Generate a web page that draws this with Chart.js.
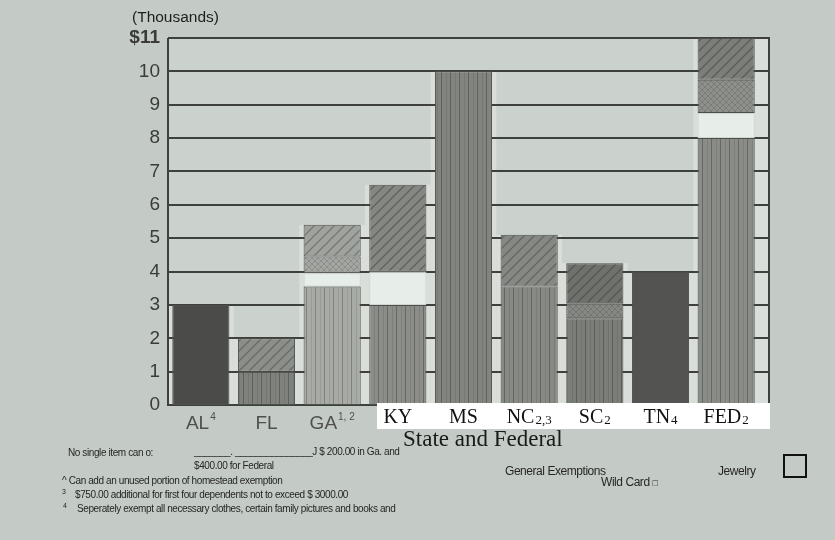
<!DOCTYPE html>
<html>
<head>
<meta charset="utf-8">
<script src="https://cdn.jsdelivr.net/npm/chart.js@4/dist/chart.umd.min.js"></script>
<style>
  html, body { margin: 0; padding: 0; background: #c4cbc6; }
  #wrap { position: relative; width: 835px; height: 540px; overflow: hidden;
          font-family: "Liberation Sans", Arial, sans-serif; }
  #wrap canvas { position: absolute; left: 0; top: 0; }
  .t { position: absolute; white-space: nowrap; color: #222; line-height: 1; }
  .note { font-size: 10px; letter-spacing: -0.4px; color: #262626; }
  .key { font-size: 12px; letter-spacing: -0.45px; color: #262626; }
  .box { position: absolute; left: 783px; top: 454px; width: 20px; height: 20px; border: 2px solid #111; }
</style>
</head>
<body>
<div id="wrap">
  <canvas id="chart" width="835" height="540"></canvas>
  <div class="t" style="left:132px; top:9px; font-size:15.5px; color:#1e1e1e;">(Thousands)</div>
  <div class="t" style="left:403px; top:427px; font-family:'Liberation Serif',serif; font-size:23px; color:#1a1a1a;">State and Federal</div>

  <div class="t note" style="left:68px; top:448px;">No single item can o:</div>
  <div class="t note" style="left:194px; top:447px;">_______.&nbsp;_______________J $ 200.00 in Ga. and</div>
  <div class="t note" style="left:194px; top:461px;">$400.00 for Federal</div>
  <div class="t note" style="left:62px; top:476px;">^ Can add an unused portion of homestead exemption</div>
  <div class="t note" style="left:62px; top:488px; font-size:7px;">3</div>
  <div class="t note" style="left:75px; top:490px;">$750.00 additional for first four dependents not to exceed $ 3000.00</div>
  <div class="t note" style="left:63px; top:502px; font-size:7px;">4</div>
  <div class="t note" style="left:77px; top:504px;">Seperately exempt all necessary clothes, certain family pictures and books and</div>

  <div class="t key" style="left:505px; top:465px;">General Exemptions</div>
  <div class="t key" style="left:601px; top:476px;">Wild Card <span style="font-size:9px;">&#9633;</span></div>
  <div class="t key" style="left:718px; top:465px;">Jewelry</div>
  <div class="box"></div>
</div>

<script>
// Exemption amounts in thousands of dollars, stacked per state.
const categories = ['AL', 'FL', 'GA', 'KY', 'MS', 'NC', 'SC', 'TN', 'FED'];
const categoryNotes = ['4', '', '1, 2', '', '', '2,3', '2', '4', '2'];
const yTickValues = [0, 1, 2, 3, 4, 5, 6, 7, 8, 9, 10, 11];

const solidExemption    = [3, null, null, null, null, null, null, 4, null];
const homestead         = [null, 1, 3.55, 3, 10, 3.55, 2.6, null, 8];
const wildCard          = [null, null, 0.4, 1, null, null, null, null, 0.75];
const jewelry           = [null, null, 0.5, null, null, null, 0.45, null, 1];
const generalExemptions = [null, 1, 0.95, 2.6, null, 1.55, 1.2, null, 1.25];

// ---- fill textures ----
function tile(w, h, draw) {
  const c = document.createElement('canvas');
  c.width = w; c.height = h;
  const g = c.getContext('2d');
  draw(g, w, h);
  return g.createPattern(c, 'repeat');
}
function vStripes(base, line) {
  return tile(9, 4, (g, w, h) => {
    g.fillStyle = base; g.fillRect(0, 0, w, h);
    g.fillStyle = line; g.fillRect(0, 0, 1, h);
    g.globalAlpha = 0.35; g.fillRect(5, 0, 1, h);
  });
}
function diagHatch(base, line) {
  return tile(10, 10, (g, w, h) => {
    g.fillStyle = base; g.fillRect(0, 0, w, h);
    g.strokeStyle = line; g.lineWidth = 1.3;
    g.beginPath();
    g.moveTo(-1, h + 1); g.lineTo(w + 1, -1);
    g.moveTo(-1, 1); g.lineTo(1, -1);
    g.moveTo(w - 1, h + 1); g.lineTo(w + 1, h - 1);
    g.stroke();
  });
}
function crossHatch(base, line) {
  return tile(6, 6, (g, w, h) => {
    g.fillStyle = base; g.fillRect(0, 0, w, h);
    g.strokeStyle = line; g.lineWidth = 0.8; g.globalAlpha = 0.7;
    g.beginPath();
    g.moveTo(0, h); g.lineTo(w, 0);
    g.moveTo(0, 0); g.lineTo(w, h);
    g.stroke();
  });
}

const solidFill = ['#4b4c4a', null, null, null, null, null, null, '#535452', null];
const stripeFill = [
  null, vStripes('#7f817d', '#5f615d'), vStripes('#a8aaa5', '#80827e'),
  vStripes('#8b8d89', '#666864'), vStripes('#828480', '#60625e'),
  vStripes('#878985', '#636561'), vStripes('#7b7d79', '#5c5e5a'),
  null, vStripes('#8a8c88', '#666864')
];
const hatchFill = [
  null, diagHatch('#8c8e8a', '#686a66'), diagHatch('#a0a29e', '#767874'),
  diagHatch('#858783', '#5f615d'), null, diagHatch('#868884', '#636561'),
  diagHatch('#6f716d', '#555753'), null, diagHatch('#7c7e7a', '#5b5d59')
];
const crossFill = [
  null, null, crossHatch('#a4a6a2', '#7a7c78'), null, null, null,
  crossHatch('#868884', '#656763'), null, crossHatch('#8e908c', '#6a6c68')
];
const wildFill = '#e7ede9';

const EDGE_RIGHT = 770;   // right frame of the plot
const GRID = '#3e403e';
const stackedSeries = [solidExemption, homestead, wildCard, jewelry, generalExemptions];

const framePlugin = {
  id: 'frame',
  beforeDraw(chart) {
    const { ctx, chartArea: a } = chart;
    ctx.save();
    ctx.fillStyle = '#cbd1cc';
    ctx.fillRect(a.left, a.top, EDGE_RIGHT - a.left, a.bottom - a.top);
    ctx.restore();
  },
  beforeDatasetsDraw(chart) {
    const { ctx, chartArea: a, scales: { x, y } } = chart;
    ctx.save();
    // pale margins around each bar column, up to the bar's full height
    const step = x.getPixelForValue(1) - x.getPixelForValue(0);
    ctx.fillStyle = '#dadedb';
    categories.forEach((_, i) => {
      const total = stackedSeries.reduce((s, arr) => s + (arr[i] || 0), 0);
      const cx = x.getPixelForValue(i);
      const top = y.getPixelForValue(total);
      let l = cx - step / 2, r = cx + step / 2;
      if (i === 0) l = a.left;
      if (i === categories.length - 1) r = EDGE_RIGHT;
      ctx.fillRect(l, top, r - l, a.bottom - top);
    });
    ctx.strokeStyle = GRID;
    ctx.lineWidth = 2;
    yTickValues.forEach(v => {
      const py = Math.round(y.getPixelForValue(v));
      ctx.beginPath(); ctx.moveTo(a.left, py); ctx.lineTo(EDGE_RIGHT, py); ctx.stroke();
    });
    ctx.beginPath();
    ctx.moveTo(a.left, a.top); ctx.lineTo(a.left, a.bottom + 1);
    ctx.moveTo(EDGE_RIGHT - 1, a.top); ctx.lineTo(EDGE_RIGHT - 1, a.bottom + 1);
    ctx.stroke();
    ctx.restore();
  },
  afterDatasetsDraw(chart) {
    const { ctx, chartArea: a, scales: { x } } = chart;
    ctx.save();
    ctx.fillStyle = '#ffffff';
    ctx.fillRect(377, a.bottom - 2, EDGE_RIGHT - 377, 26);
    categories.forEach((name, i) => {
      const cx = x.getPixelForValue(i);
      const note = categoryNotes[i];
      const serif = i >= 3;
      const mainFont = serif ? '20px "Liberation Serif"' : '19px "Liberation Sans"';
      const noteFont = serif ? '13px "Liberation Serif"' : '10px "Liberation Sans"';
      ctx.font = mainFont;
      const w1 = ctx.measureText(name).width;
      ctx.font = noteFont;
      const w2 = note ? ctx.measureText(note).width + 1 : 0;
      const startX = cx - (w1 + w2) / 2;
      const base = serif ? 423 : 429;
      ctx.fillStyle = serif ? '#111111' : '#4f504e';
      ctx.textBaseline = 'alphabetic';
      ctx.textAlign = 'left';
      ctx.font = mainFont;
      ctx.fillText(name, startX, base);
      if (note) {
        ctx.font = noteFont;
        ctx.fillText(note, startX + w1 + 1, serif ? base + 1 : base - 9);
      }
    });
    ctx.restore();
  }
};

const common = { borderColor: '#4d4f4c', borderWidth: 1, borderSkipped: false,
                 barPercentage: 0.87, categoryPercentage: 1.0, stack: 'all' };

new Chart(document.getElementById('chart'), {
  type: 'bar',
  data: {
    labels: categories,
    datasets: [
      { label: 'Exempt', data: solidExemption, backgroundColor: solidFill, ...common },
      { label: 'Homestead', data: homestead, backgroundColor: stripeFill, ...common },
      { label: 'Wild Card', data: wildCard, backgroundColor: wildFill, ...common, borderColor: '#cfd5d0' },
      { label: 'Jewelry', data: jewelry, backgroundColor: crossFill, ...common },
      { label: 'General Exemptions', data: generalExemptions, backgroundColor: hatchFill, ...common }
    ]
  },
  options: {
    responsive: false,
    animation: false,
    layout: { padding: { left: 0, top: 38, right: 76, bottom: 0 } },
    plugins: { legend: { display: false }, tooltip: { enabled: false } },
    scales: {
      x: {
        stacked: true,
        grid: { display: false },
        border: { display: false },
        ticks: { display: false },
        afterFit(s) { s.height = 135; }
      },
      y: {
        stacked: true,
        min: 0, max: 11,
        grid: { display: false },
        border: { display: false },
        ticks: {
          stepSize: 1,
          padding: 0,
          color: '#3a3b3a',
          font: ctx => ({ family: '"Liberation Sans"', size: 19,
                          weight: ctx.tick && ctx.tick.value === 11 ? 'bold' : 'normal' }),
          callback: v => (v === 11 ? '$11' : String(v))
        },
        afterFit(s) { s.width = 168; }
      }
    }
  },
  plugins: [framePlugin]
});
</script>
</body>
</html>
